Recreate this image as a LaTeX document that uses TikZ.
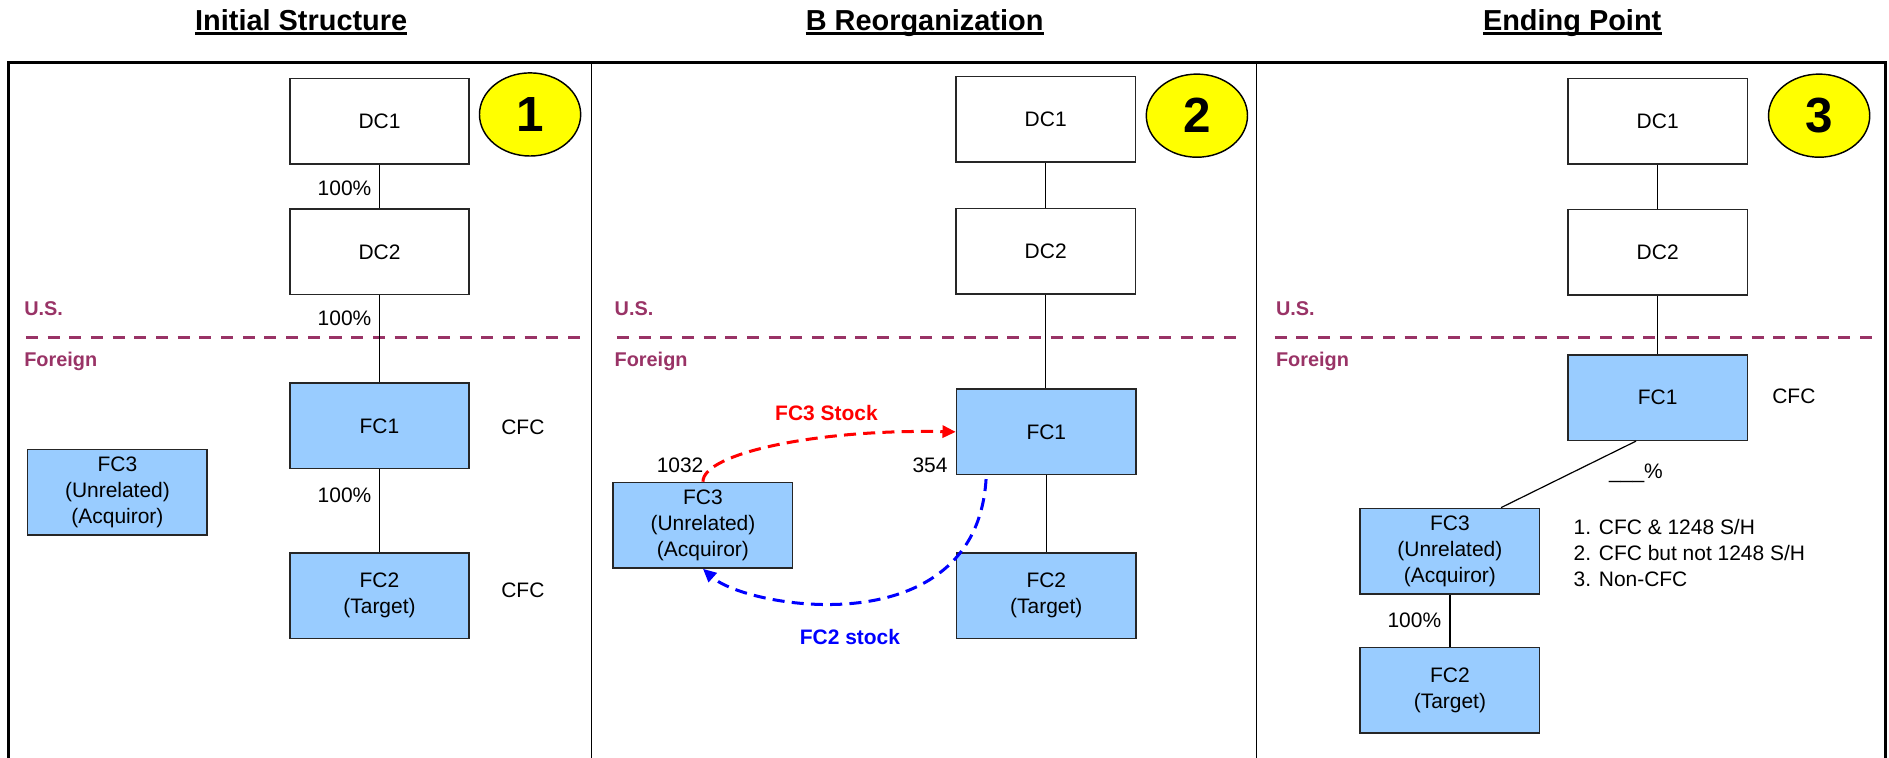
\documentclass[tikz,border=0pt]{standalone}
\usepackage{fontspec}
\setmainfont{Liberation Sans}
\usetikzlibrary{arrows.meta,shapes.geometric}
\definecolor{boxblue}{RGB}{153,204,255}
\definecolor{usp}{RGB}{153,51,102}
\definecolor{numyellow}{RGB}{255,255,0}
\begin{document}
\begin{tikzpicture}[x=1pt,y=-1pt,
  every node/.style={font=\fontsize{17.4}{21.4}\selectfont, inner sep=0pt},
  wbox/.style={draw=black!85, line width=1.3pt, fill=white, minimum width=149pt, minimum height=71pt, align=center},
  fbox/.style={wbox, fill=boxblue},
  numcirc/.style={ellipse, draw=black, line width=1.2pt, fill=numyellow, minimum width=84pt, minimum height=69pt, font=\bfseries\fontsize{41}{48}\selectfont},
  ptitle/.style={font=\bfseries\fontsize{24}{28}\selectfont, anchor=base, text depth=0pt},
  uline/.style={line width=2.3pt},
  region/.style={font=\bfseries\fontsize{16.5}{20}\selectfont, text=usp, anchor=west},
  border/.style={draw=usp, line width=2.5pt, dash pattern=on 10pt off 8pt},
  link/.style={draw=black, line width=1pt},
  frame/.style={draw=black, line width=2pt},
  divider/.style={draw=black, line width=1.3pt},
  redflow/.style={draw=red, line width=2.5pt, dash pattern=on 10pt off 6pt, -{Triangle[length=11pt,width=10pt]}},
  blueflow/.style={draw=blue, line width=2.5pt, dash pattern=on 10pt off 6pt, -{Triangle[length=11pt,width=10pt]}},
  redlbl/.style={font=\bfseries\fontsize{17.4}{21}\selectfont, text=red},
  bluelbl/.style={font=\bfseries\fontsize{17.4}{21}\selectfont, text=blue}
]
\useasboundingbox (0,0) rectangle (1568,629);

% titles
\node[ptitle] (t1) at (250,25) {Initial Structure};
\node[ptitle] (t2) at (767.5,25) {B Reorganization};
\node[ptitle] (t3) at (1305,25) {Ending Point};
\draw[uline] ([yshift=-2.7pt]t1.base west) -- ([yshift=-2.7pt]t1.base east);
\draw[uline] ([yshift=-2.7pt]t2.base west) -- ([yshift=-2.7pt]t2.base east);
\draw[uline] ([yshift=-2.7pt]t3.base west) -- ([yshift=-2.7pt]t3.base east);

% frame
\draw[frame] (7,629) -- (7,52) -- (1565,52) -- (1565,629);
\draw[divider] (491,52) -- (491,629);
\draw[divider] (1043,52) -- (1043,629);

% US / Foreign borders
\draw[border] (21.5,280) -- (485,280);
\draw[border] (512,280) -- (1029,280);
\draw[border] (1058,280) -- (1559,280);
\node[region] (us1) at (20,256) {U.S.};
\node[region] (fo1) at (20,300) {Foreign};
\node[region] (us2) at (510,256) {U.S.};
\node[region] (fo2) at (510,300) {Foreign};
\node[region] (us3) at (1059,256) {U.S.};
\node[region] (fo3) at (1059,300) {Foreign};

% ---------- Panel 1 ----------
\node[wbox] (p1dc1) at (315,100.5) {DC1};
\node[wbox] (p1dc2) at (315,209) {DC2};
\node[fbox] (p1fc1) at (315,353.5) {FC1};
\node[fbox] (p1fc2) at (315,494.5) {FC2\\(Target)};
\node[fbox] (p1fc3) at (97.5,408.5) {FC3\\(Unrelated)\\(Acquiror)};
\node[numcirc] (n1) at (440,95) {1};
\draw[link] (p1dc1) -- (p1dc2);
\draw[link] (p1dc2) -- (p1fc1);
\draw[link] (p1fc1) -- (p1fc2);
\node (p1l1) at (286,156) {100\%};
\node (p1l2) at (286,264) {100\%};
\node (p1l3) at (286,411) {100\%};
\node (p1c1) at (434,355) {CFC};
\node (p1c2) at (434,490) {CFC};

% ---------- Panel 2 ----------
\node[wbox] (p2dc1) at (868,99) {DC1};
\node[wbox] (p2dc2) at (868,208.5) {DC2};
\node[fbox] (p2fc1) at (868.5,358.5) {FC1};
\node[fbox] (p2fc2) at (868.5,494.5) {FC2\\(Target)};
\node[fbox] (p2fc3) at (583.5,436) {FC3\\(Unrelated)\\(Acquiror)};
\node[numcirc] (n2) at (993.5,96) {2};
\draw[link] (p2dc1) -- (p2dc2);
\draw[link] (p2dc2.south) -- (p2dc2.south |- p2fc1.north);
\draw[link] (p2fc1) -- (p2fc2);
\draw[redflow] (p2fc3.north) .. controls (583.5,376) and (680,356) .. (p2fc1.west);
\draw[blueflow] ([xshift=-50pt,yshift=-3pt]p2fc1.south) .. controls (810,537) and (620,505) .. (p2fc3.south);
\node[redlbl] (l3s) at (686,343) {FC3 Stock};
\node[bluelbl] (l2s) at (705.5,528.5) {FC2 stock};
\node (n1032) at (564.5,386) {1032};
\node (n354) at (772,386) {354};

% ---------- Panel 3 ----------
\node[wbox] (p3dc1) at (1376,100.5) {DC1};
\node[wbox] (p3dc2) at (1376,209.5) {DC2};
\node[fbox] (p3fc1) at (1376,330) {FC1};
\node[fbox] (p3fc3) at (1203.5,457.5) {FC3\\(Unrelated)\\(Acquiror)};
\node[fbox] (p3fc2) at (1203.5,573) {FC2\\(Target)};
\node[numcirc] (n3) at (1510,96) {3};
\draw[link] (p3dc1) -- (p3dc2);
\draw[link] (p3dc2) -- (p3fc1);
\draw[link] ([xshift=-18pt]p3fc1.south) -- ([xshift=42.5pt]p3fc3.north);
\draw[link] (p3fc3) -- (p3fc2);
\node (p3c1) at (1489,329) {CFC};
\node (p3pct) at (1358,393) {\_\_\_\%};
\node (p3l1) at (1174,515) {100\%};
\node[anchor=west, align=left] (p3list) at (1306,459) {1. CFC \& 1248 S/H\\2. CFC but not 1248 S/H\\3. Non-CFC};
\end{tikzpicture}
\end{document}
